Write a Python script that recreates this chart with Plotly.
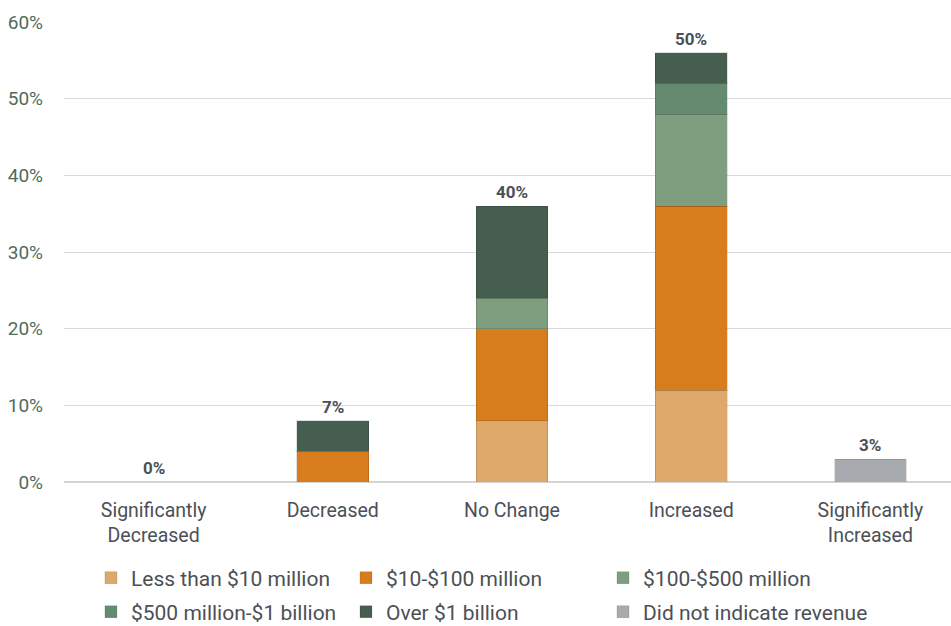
import plotly.graph_objects as go

categories = ["Significantly<br>Decreased", "Decreased", "No Change", "Increased", "Significantly<br>Increased"]

less_than_10m = [None, None, 8, 12, None]
m10_to_100m = [None, 4, 12, 24, None]
m100_to_500m = [None, None, 4, 12, None]
m500_to_1b = [None, None, None, 4, None]
over_1b = [None, 4, 12, 4, None]
not_indicated = [None, None, None, None, 3]

total_labels = ["0%", "7%", "40%", "50%", "3%"]

series = [
    ("Less than $10 million", less_than_10m, "#dea86b"),
    ("$10-$100 million", m10_to_100m, "#d87d1d"),
    ("$100-$500 million", m100_to_500m, "#7f9e7f"),
    ("$500 million-$1 billion", m500_to_1b, "#648b70"),
    ("Over $1 billion", over_1b, "#465e50"),
    ("Did not indicate revenue", not_indicated, "#a7abaf"),
]

TEXT = "#4b5056"

# legend grid: three columns, two rows below the plot
legend_cols = [0.0304, 0.3179, 0.6077]
legend_rows = [-0.2087, -0.2826]

fig = go.Figure()
legend_layout = {}
for k, (name, vals, color) in enumerate(series):
    key = "legend" if k == 0 else f"legend{k + 1}"
    fig.add_trace(go.Bar(
        name=name, x=categories, y=vals, width=0.4, legend=key,
        marker=dict(color=color, line=dict(color="rgba(0,0,0,0.12)", width=1)),
    ))
    legend_layout[key] = dict(
        orientation="h", xanchor="left", yanchor="middle",
        x=legend_cols[k % 3], y=legend_rows[k // 3],
        font=dict(family="Roboto", size=21, color=TEXT),
        bgcolor="rgba(0,0,0,0)",
    )

# totals above each stack
for i, cat in enumerate(categories):
    top = sum((s[1][i] or 0) for s in series)
    fig.add_annotation(
        x=cat, y=top, text="<b>" + total_labels[i] + "</b>", showarrow=False,
        yanchor="bottom", yshift=2,
        font=dict(family="Roboto", size=17, color=TEXT),
    )

fig.update_layout(
    width=951, height=626,
    barmode="stack",
    plot_bgcolor="white", paper_bgcolor="white",
    margin=dict(l=64, r=0, t=22, b=144, autoexpand=False),
    font=dict(family="Roboto", size=18, color=TEXT),
    showlegend=True,
    **legend_layout,
)
fig.update_xaxes(
    range=[-0.5, 4.45], showgrid=False, showline=False, ticks="",
    tickfont=dict(family="Roboto", size=19.5, color=TEXT),
    ticklabelstandoff=14,
)
fig.update_yaxes(
    range=[0, 60], dtick=10, ticksuffix="%",
    showgrid=True, gridcolor="#d9d9d9", gridwidth=1,
    zeroline=True, zerolinecolor="#d4d4d4", zerolinewidth=2,
    tickfont=dict(family="Roboto", size=19, color="#4f6c5d"),
    ticklabelstandoff=20,
)

fig.write_html("out.html")
